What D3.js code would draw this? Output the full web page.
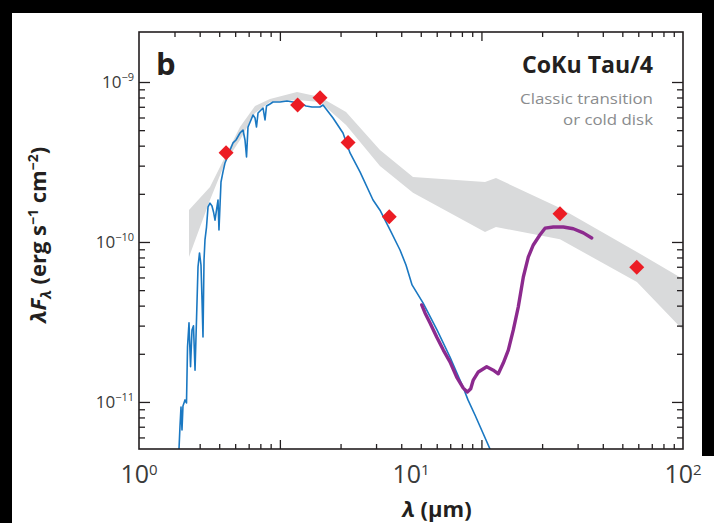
<!DOCTYPE html>
<html><head><meta charset="utf-8">
<script src="https://cdn.jsdelivr.net/npm/d3@7"></script>
<style>body{margin:0;background:#000}svg{display:block}</style>
</head><body><svg id="c" width="714" height="523"></svg>
<script>
// ---- data (wavelength in micron, lambda*F_lambda in erg s^-1 cm^-2) ----
const photWl   = [2.09, 3.83, 4.63, 5.87, 8.32, 35.3, 67.6];
const photFlux = [3.61e-10, 7.18e-10, 7.98e-10, 4.18e-10, 1.44e-10, 1.50e-10, 6.95e-11];

const bandWl = [1.527,1.824,2.071,2.351,2.670,3.031,3.81,4.63,5.77,7.69,10.17,18.71,20.53,35.3,67.7,100];
const bandHi = [1.585e-10,2.21e-10,3.40e-10,5.23e-10,7.08e-10,7.83e-10,8.66e-10,8.06e-10,6.49e-10,3.76e-10,2.55e-10,2.37e-10,2.51e-10,1.63e-10,8.66e-11,5.87e-11];
const bandLo = [8.06e-11,1.83e-10,3.12e-10,4.34e-10,6.40e-10,7.50e-10,7.72e-10,7.50e-10,5.39e-10,2.99e-10,2.03e-10,1.155e-10,1.24e-10,1.04e-10,5.62e-11,2.82e-11];

const photoWl = [1.403,1.415,1.427,1.439,1.451,1.476,1.495,1.508,1.527,1.547,1.566,1.586,1.607,1.627,1.648,1.669,1.690,1.705,1.719,1.734,1.748,1.771,1.794,1.824,1.855,1.879,1.903,1.927,1.952,1.968,2.002,2.036,2.071,2.106,2.161,2.216,2.273,2.351,2.412,2.453,2.485,2.516,2.581,2.625,2.670,2.704,2.739,2.786,2.857,2.906,2.943,3.031,3.109,3.299,3.500,3.684,3.908,4.111,4.325,4.628,4.748,5.168,5.623,5.968,6.494,7.251,7.691,8.374,9.112,9.585,10.09,11.07,12.46,13.91,15.53,16.20,17.19,19.52];
const photoFlux = [5.08e-12,7.08e-12,9.30e-12,6.68e-12,9.44e-12,1.03e-11,9.86e-12,2.21e-11,3.12e-11,1.66e-11,2.82e-11,2.99e-11,1.58e-11,3.25e-11,6.98e-11,8.54e-11,7.18e-11,4.34e-11,2.55e-11,7.72e-11,1.03e-10,1.24e-10,1.66e-10,1.75e-10,1.68e-10,1.54e-10,1.37e-10,1.58e-10,1.83e-10,1.19e-10,2.37e-10,2.74e-10,3.12e-10,3.35e-10,3.76e-10,4.16e-10,4.34e-10,4.80e-10,5.01e-10,4.34e-10,3.40e-10,5.23e-10,5.79e-10,6.22e-10,5.96e-10,5.23e-10,6.40e-10,6.59e-10,6.88e-10,5.79e-10,7.08e-10,7.29e-10,7.50e-10,7.50e-10,7.61e-10,7.50e-10,7.39e-10,7.08e-10,6.98e-10,6.98e-10,7.18e-10,5.96e-10,4.80e-10,3.60e-10,2.74e-10,1.83e-10,1.58e-10,1.19e-10,8.91e-11,7.18e-11,5.39e-11,4.16e-11,2.82e-11,1.91e-11,1.24e-11,1.03e-11,8.29e-12,5.08e-12];

const irsWl = [10.95,11.26,11.75,12.43,13.15,13.91,14.72,15.57,16.11,16.58,16.94,17.68,18.98,20.07,20.94,21.84,22.79,23.78,24.80,25.88,27.00,28.16,29.81,31.10,33.37,36.30,39.52,43.01,46.17];
const irsFlux = [4.04e-11,3.60e-11,3.12e-11,2.55e-11,2.11e-11,1.78e-11,1.43e-11,1.22e-11,1.155e-11,1.21e-11,1.37e-11,1.54e-11,1.66e-11,1.58e-11,1.50e-11,1.75e-11,2.11e-11,2.82e-11,3.93e-11,6.04e-11,8.06e-11,9.58e-11,1.11e-10,1.22e-10,1.24e-10,1.24e-10,1.21e-10,1.14e-10,1.06e-10];

const xLabelVals = [1, 10, 100];
const xLabelExp  = ["0", "1", "2"];
const yLabelVals = [1e-9, 1e-10, 1e-11];
const yLabelExp  = ["\u22129", "\u221210", "\u221211"];
const xMajorTicks = [1, 10];
const xMinorBottom = [0.4,0.5,0.6,0.7,0.8,0.9,2,3,4,5,6,7,8,9,20,30,40,50,60,70,80,90];
const xMinorTop = [0.3,0.4,0.5,0.6,0.7,0.8,0.9,2,3,4,5,6,7,8,9,20,30,40,50,60,70,80,90];
const yMajorTicks = [1e-9, 1e-10, 1e-11];
const yMinorTicks = [9e-10,8e-10,7e-10,6e-10,5e-10,4e-10,3e-10,2e-10,9e-11,8e-11,7e-11,6e-11,5e-11,4e-11,3e-11,2e-11,9e-12,8e-12,7e-12,6e-12];

// ---- layout ----
const W = 714, H = 523;
const L = 139, R = 683, T = 32, B = 449;
const FONT = "'Open Sans', 'Noto Sans', sans-serif";
const INK = "#231f20";

const svg = d3.select("#c");
svg.append("rect").attr("width", W).attr("height", H).attr("fill", "#000");
svg.append("rect").attr("x", 12).attr("y", 13).attr("width", 690).attr("height", 510).attr("fill", "#fff");
svg.append("rect").attr("x", 700).attr("y", 456).attr("width", 14).attr("height", 67).attr("fill", "#fff");

const x = d3.scaleLog().domain([1, 100]).range([L, R]);
const xTick = d3.scaleLog().domain([0.2, 100]).range([L, R]);
const y = d3.scaleLog().domain([5.08e-12, 2.054e-9]).range([B, T]);

svg.append("defs").append("clipPath").attr("id", "clip")
  .append("rect").attr("x", L).attr("y", T).attr("width", R - L).attr("height", B - T);

const g = svg.append("g").attr("clip-path", "url(#clip)");

// band
const band = bandWl.map((w, i) => ({w, hi: bandHi[i], lo: bandLo[i]}));
g.append("path").datum(band)
  .attr("d", d3.area().x(d => x(d.w)).y0(d => y(d.lo)).y1(d => y(d.hi)))
  .attr("fill", "#d9dadb");

// photosphere
const line = d3.line().x(d => x(d[0])).y(d => y(d[1]));
g.append("path").datum(photoWl.map((w, i) => [w, photoFlux[i]]))
  .attr("d", line).attr("fill", "none").attr("stroke", "#1a78c2")
  .attr("stroke-width", 1.6).attr("stroke-linejoin", "round");

// IRS
g.append("path").datum(irsWl.map((w, i) => [w, irsFlux[i]]))
  .attr("d", line).attr("fill", "none").attr("stroke", "#8c2a8e")
  .attr("stroke-width", 3.4).attr("stroke-linejoin", "round").attr("stroke-linecap", "round");

// photometry diamonds
g.selectAll(".pt").data(photWl.map((w, i) => [w, photFlux[i]])).join("path")
  .attr("d", d3.symbol(d3.symbolSquare, 112))
  .attr("transform", d => `translate(${x(d[0])},${y(d[1])}) rotate(45)`)
  .attr("fill", "#ec1c24");

// axes ticks
function styleAxis(sel) {
  sel.select(".domain").remove();
  sel.selectAll("line").attr("stroke", INK).attr("stroke-width", 1.3);
}
svg.append("g").attr("transform", `translate(0,${B})`)
  .call(d3.axisBottom(xTick).tickValues(xMinorBottom).tickSize(-5).tickFormat("")).call(styleAxis);
svg.append("g").attr("transform", `translate(0,${B})`)
  .call(d3.axisBottom(xTick).tickValues(xMajorTicks).tickSize(-9).tickFormat("")).call(styleAxis);
svg.append("g").attr("transform", `translate(0,${T})`)
  .call(d3.axisTop(xTick).tickValues(xMinorTop).tickSize(-5).tickFormat("")).call(styleAxis);
svg.append("g").attr("transform", `translate(0,${T})`)
  .call(d3.axisTop(xTick).tickValues(xMajorTicks).tickSize(-9).tickFormat("")).call(styleAxis);
svg.append("g").attr("transform", `translate(${L},0)`)
  .call(d3.axisLeft(y).tickValues(yMinorTicks).tickSize(-6).tickFormat("")).call(styleAxis);
svg.append("g").attr("transform", `translate(${L},0)`)
  .call(d3.axisLeft(y).tickValues(yMajorTicks).tickSize(-11).tickFormat("")).call(styleAxis);
svg.append("g").attr("transform", `translate(${R},0)`)
  .call(d3.axisRight(y).tickValues(yMinorTicks).tickSize(-6).tickFormat("")).call(styleAxis);
svg.append("g").attr("transform", `translate(${R},0)`)
  .call(d3.axisRight(y).tickValues(yMajorTicks).tickSize(-11).tickFormat("")).call(styleAxis);

// frame
svg.append("rect").attr("x", L).attr("y", T).attr("width", R - L).attr("height", B - T)
  .attr("fill", "none").attr("stroke", INK).attr("stroke-width", 1.6);

// y tick labels
yLabelVals.forEach((v, i) => {
  const t = svg.append("text").attr("x", 134).attr("y", y(v) + 6)
    .attr("text-anchor", "end").attr("font-family", FONT).attr("font-size", 17).attr("fill", "#3a3a3a");
  t.append("tspan").text("10");
  t.append("tspan").attr("font-size", 11).attr("dy", -7).text(yLabelExp[i]);
});

// x tick labels
xLabelVals.forEach((v, i) => {
  const t = svg.append("text").attr("x", x(v)).attr("y", 483)
    .attr("text-anchor", "middle").attr("font-family", FONT).attr("font-size", 25).attr("fill", "#3a3a3a");
  t.append("tspan").text("10");
  t.append("tspan").attr("font-size", 15).attr("dy", -8).text(xLabelExp[i]);
});

// axis titles
const xt = svg.append("text").attr("x", 437).attr("y", 517).attr("text-anchor", "middle")
  .attr("font-family", FONT).attr("font-size", 22).attr("font-weight", "bold").attr("fill", INK);
xt.append("tspan").attr("font-style", "italic").text("\u03bb");
xt.append("tspan").text(" (\u00b5m)");

const yt = svg.append("text").attr("transform", "translate(46,235) rotate(-90)")
  .attr("text-anchor", "middle").attr("font-family", FONT).attr("font-size", 22)
  .attr("font-weight", "bold").attr("fill", INK);
yt.append("tspan").attr("font-style", "italic").text("\u03bbF");
yt.append("tspan").attr("font-style", "italic").attr("font-size", 15).attr("dy", 5).text("\u03bb");
yt.append("tspan").attr("dy", -5).text(" (erg s");
yt.append("tspan").attr("font-size", 14).attr("dy", -8).text("\u22121");
yt.append("tspan").attr("dy", 8).text(" cm");
yt.append("tspan").attr("font-size", 14).attr("dy", -8).text("\u22122");
yt.append("tspan").attr("dy", 8).text(")");

// panel letter and titles
svg.append("text").attr("x", 156).attr("y", 75).attr("font-family", FONT)
  .attr("font-size", 31).attr("font-weight", "bold").attr("fill", INK).text("b");
svg.append("text").attr("x", 653).attr("y", 73).attr("text-anchor", "end").attr("font-family", FONT)
  .attr("font-size", 24).attr("font-weight", "bold").attr("fill", INK)
  .attr("textLength", 131).attr("lengthAdjust", "spacingAndGlyphs").text("CoKu Tau/4");
svg.append("text").attr("x", 653).attr("y", 104).attr("text-anchor", "end").attr("font-family", FONT)
  .attr("font-size", 15).attr("fill", "#8a8c8e")
  .attr("textLength", 133).attr("lengthAdjust", "spacingAndGlyphs").text("Classic transition");
svg.append("text").attr("x", 653).attr("y", 125).attr("text-anchor", "end").attr("font-family", FONT)
  .attr("font-size", 15).attr("fill", "#8a8c8e")
  .attr("textLength", 90).attr("lengthAdjust", "spacingAndGlyphs").text("or cold disk");
</script></body></html>
